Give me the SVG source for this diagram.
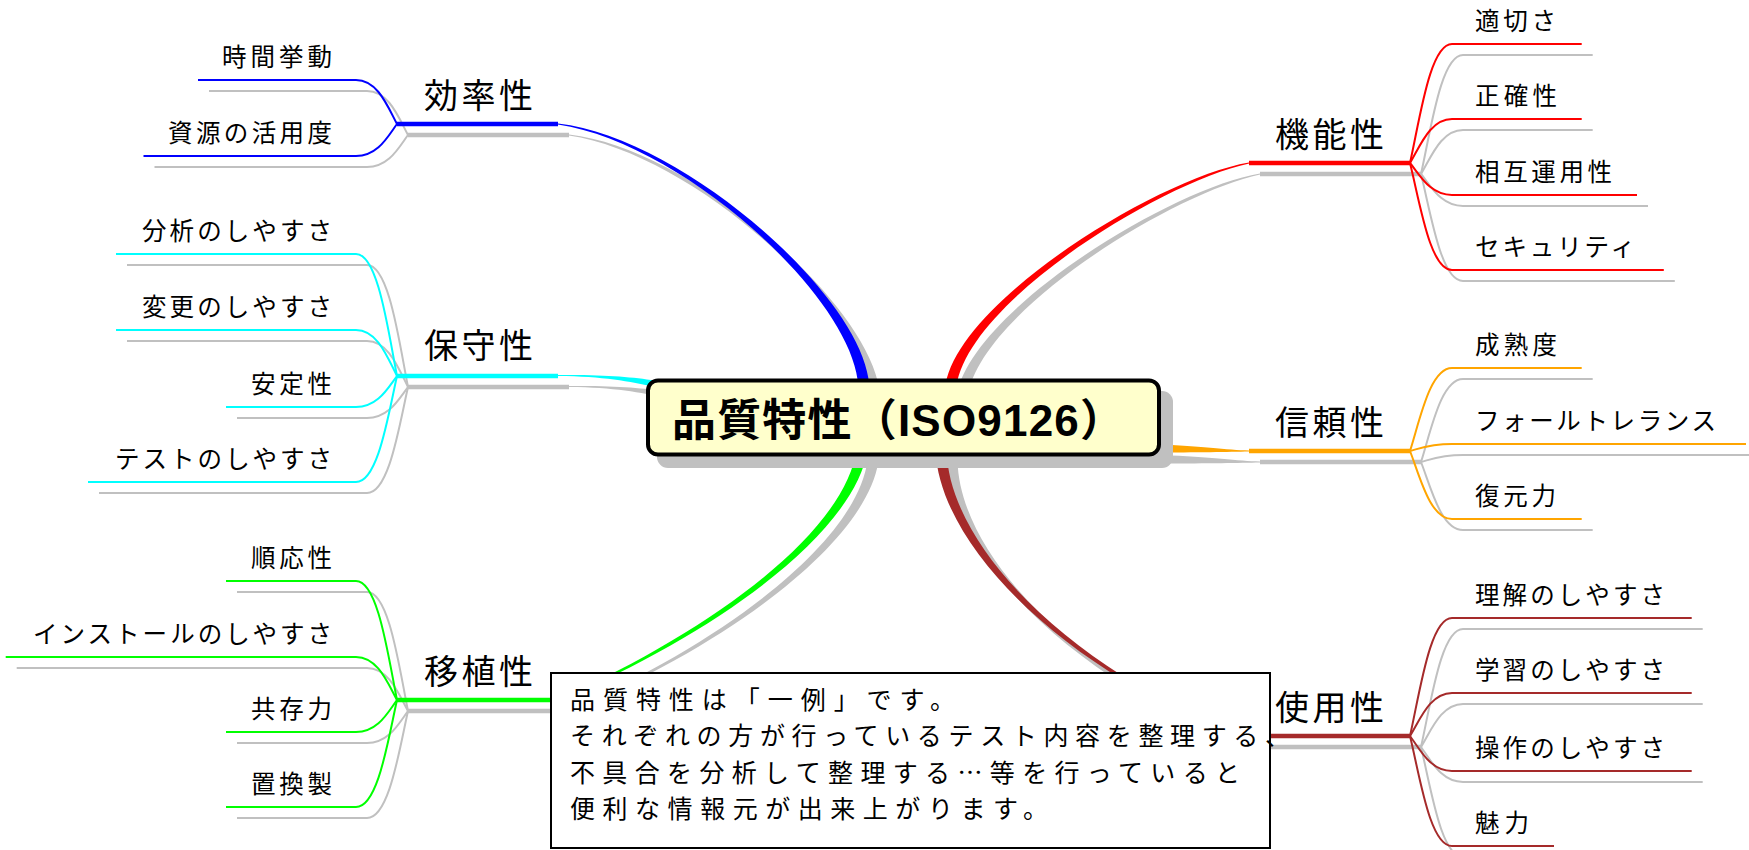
<svg xmlns="http://www.w3.org/2000/svg" xmlns:xlink="http://www.w3.org/1999/xlink" width="1749" height="850" viewBox="0 0 1749 850">
<style>
.ln{fill:none;stroke:currentColor;stroke-width:2}
.th{fill:none;stroke:currentColor;stroke-width:4.5}
.tp{fill:currentColor;stroke:none}
.t{font-family:"Noto Sans CJK JP","Noto Sans CJK SC",sans-serif;fill:#000}
.ts{font-size:24.5px}
.tb{font-size:34px}
.tn{font-size:25px}
.tc{font-family:"Liberation Sans","Noto Sans CJK JP",sans-serif;font-size:44px;font-weight:bold;fill:#000}
</style>
<rect width="1749" height="850" fill="#FFFFFF"/>
<g id="connectors">
  <g id="connector-shadows" transform="translate(11,11)" style="color:#C0C0C0">
    <use href="#cn-eff"/><use href="#cn-mnt"/><use href="#cn-prt"/>
    <use href="#cn-fun"/><use href="#cn-rel"/><use href="#cn-usa"/>
  </g>
  <g style="color:#0000FF"><g id="cn-eff">
    <path class="tp" d="M868.4,392 L868.4,378.2 C854.5,289.4 680.3,137.5 558.1,123.5 L557.9,124.5 C679.7,142.5 845.6,290.7 857.6,379.8 L857.6,392 Z"/>
    <path class="th" d="M397,124 H558"/>
    <path class="ln" d="M198,80 H356 C378,80 388,107.4 397,124"/>
    <path class="ln" d="M143.5,156 H356 C378,156 388,136.1 397,124"/>
  </g></g>
  <g style="color:#00FFFF"><g id="cn-mnt">
    <path class="tp" d="M558,375 C605,374.5 632,377 655,380.5 L655,387 C630,381.5 603,376.3 558,376 Z"/>
    <path class="th" d="M397,376 H558"/>
    <path class="ln" d="M116,254 H356 C378,254 388,330 397,376"/>
    <path class="ln" d="M116,330 H356 C378,330 388,358.7 397,376"/>
    <path class="ln" d="M226,407 H356 C378,407 388,387.7 397,376"/>
    <path class="ln" d="M88,482 H356 C378,482 388,416 397,376"/>
  </g></g>
  <g style="color:#00FF00"><g id="cn-prt">
    <path class="tp" d="M856.6,449.2 C845.6,529.3 719,627.7 557.8,699.5 L558.2,700.5 C721,632.3 854.5,530.7 867.4,450.8 Z"/>
    <path class="th" d="M397,700 H558"/>
    <path class="ln" d="M226,581 H356 C378,581 388,655.1 397,700"/>
    <path class="ln" d="M5.7,657 H356 C378,657 388,683.8 397,700"/>
    <path class="ln" d="M226,732 H356 C378,732 388,712.1 397,700"/>
    <path class="ln" d="M226,807 H356 C378,807 388,740.3 397,700"/>
  </g></g>
  <g style="color:#FF0000"><g id="cn-fun">
    <path class="tp" d="M956.4,395 L956.4,385.9 C969.4,300.7 1160.5,182.5 1249.1,163.5 L1248.9,162.5 C1159.5,177.5 960.6,299.3 945.6,384.1 L945.6,395 Z"/>
    <path class="th" d="M1249,163 H1410"/>
    <path class="ln" d="M1581.7,44 H1452 C1430,44 1420,118.1 1410,163"/>
    <path class="ln" d="M1581.7,119 H1452 C1430,119 1420,146.4 1410,163"/>
    <path class="ln" d="M1637,195 H1452 C1430,195 1420,175.1 1410,163"/>
    <path class="ln" d="M1663.8,270 H1452 C1430,270 1420,203.3 1410,163"/>
  </g></g>
  <g style="color:#FFA500"><g id="cn-rel">
    <path class="tp" d="M1150,444 C1200,446 1228,450 1249,450.5 L1249,451.5 C1228,452 1200,452.5 1150,452.5 Z"/>
    <path class="th" d="M1249,451 H1410"/>
    <path class="ln" d="M1581.7,368 H1452 C1430,368 1420,419.7 1410,451"/>
    <path class="ln" d="M1746,444 H1452 C1430,444 1420,448.4 1410,451"/>
    <path class="ln" d="M1581.7,519 H1452 C1430,519 1420,476.6 1410,451"/>
  </g></g>
  <g style="color:#A52A2A"><g id="cn-usa">
    <path class="tp" d="M935.5,450.2 C940.5,560.2 1099.3,692.4 1248.9,736.5 L1249.1,735.5 C1100.7,687.6 949.5,559.8 946.5,449.8 Z"/>
    <path class="th" d="M1249,736 H1410"/>
    <path class="ln" d="M1691.7,618 H1452 C1430,618 1420,691.5 1410,736"/>
    <path class="ln" d="M1691.7,693 H1452 C1430,693 1420,719.8 1410,736"/>
    <path class="ln" d="M1691.7,771 H1452 C1430,771 1420,749.2 1410,736"/>
    <path class="ln" d="M1554,846 H1452 C1430,846 1420,777.5 1410,736"/>
  </g></g>
</g>

<g id="node-center">
  <rect x="657" y="391" width="516" height="77" rx="11" fill="#C0C0C0"/>
  <rect x="648" y="380.5" width="511" height="74" rx="10" fill="#FFFFCC" stroke="#000" stroke-width="4"/>
  <text class="tc" x="672" y="436" textLength="452" lengthAdjust="spacing">品質特性（ISO9126）</text>
</g>

<g id="node-efficiency"><text class="t tb" x="424" y="108" textLength="109" lengthAdjust="spacing">効率性</text></g>
<g id="leaf-time"><text class="t ts" x="332" y="66" text-anchor="end" textLength="110" lengthAdjust="spacing">時間挙動</text></g>
<g id="leaf-resource"><text class="t ts" x="332" y="142" text-anchor="end" textLength="164" lengthAdjust="spacing">資源の活用度</text></g>

<g id="node-maintainability"><text class="t tb" x="424" y="358" textLength="109" lengthAdjust="spacing">保守性</text></g>
<g id="leaf-analyze"><text class="t ts" x="332" y="240" text-anchor="end" textLength="190" lengthAdjust="spacing">分析のしやすさ</text></g>
<g id="leaf-change"><text class="t ts" x="332" y="316" text-anchor="end" textLength="190" lengthAdjust="spacing">変更のしやすさ</text></g>
<g id="leaf-stability"><text class="t ts" x="332" y="393" text-anchor="end" textLength="81" lengthAdjust="spacing">安定性</text></g>
<g id="leaf-test"><text class="t ts" x="332" y="468" text-anchor="end" textLength="217" lengthAdjust="spacing">テストのしやすさ</text></g>

<g id="node-portability"><text class="t tb" x="424" y="684" textLength="109" lengthAdjust="spacing">移植性</text></g>
<g id="leaf-adapt"><text class="t ts" x="332" y="567" text-anchor="end" textLength="81" lengthAdjust="spacing">順応性</text></g>
<g id="leaf-install"><text class="t ts" x="332" y="643" text-anchor="end" textLength="299" lengthAdjust="spacing">インストールのしやすさ</text></g>
<g id="leaf-coexist"><text class="t ts" x="332" y="718" text-anchor="end" textLength="81" lengthAdjust="spacing">共存力</text></g>
<g id="leaf-replace"><text class="t ts" x="332" y="793" text-anchor="end" textLength="81" lengthAdjust="spacing">置換製</text></g>

<g id="node-functionality"><text class="t tb" x="1275" y="147" textLength="109" lengthAdjust="spacing">機能性</text></g>
<g id="leaf-suitability"><text class="t ts" x="1475" y="30" textLength="81" lengthAdjust="spacing">適切さ</text></g>
<g id="leaf-accuracy"><text class="t ts" x="1475" y="105" textLength="82" lengthAdjust="spacing">正確性</text></g>
<g id="leaf-interop"><text class="t ts" x="1475" y="181" textLength="137" lengthAdjust="spacing">相互運用性</text></g>
<g id="leaf-security"><text class="t ts" x="1475" y="256" textLength="160" lengthAdjust="spacing">セキュリティ</text></g>

<g id="node-reliability"><text class="t tb" x="1275" y="435" textLength="109" lengthAdjust="spacing">信頼性</text></g>
<g id="leaf-maturity"><text class="t ts" x="1475" y="354" textLength="82" lengthAdjust="spacing">成熟度</text></g>
<g id="leaf-fault"><text class="t ts" x="1475" y="430" textLength="241" lengthAdjust="spacing">フォールトレランス</text></g>
<g id="leaf-recover"><text class="t ts" x="1475" y="505" textLength="81" lengthAdjust="spacing">復元力</text></g>

<g id="node-usability"><text class="t tb" x="1275" y="720" textLength="109" lengthAdjust="spacing">使用性</text></g>
<g id="leaf-understand"><text class="t ts" x="1475" y="604" textLength="190" lengthAdjust="spacing">理解のしやすさ</text></g>
<g id="leaf-learn"><text class="t ts" x="1475" y="679" textLength="190" lengthAdjust="spacing">学習のしやすさ</text></g>
<g id="leaf-operate"><text class="t ts" x="1475" y="757" textLength="190" lengthAdjust="spacing">操作のしやすさ</text></g>
<g id="leaf-attract"><text class="t ts" x="1475" y="832" textLength="54" lengthAdjust="spacing">魅力</text></g>

<g id="note">
  <rect x="551" y="673" width="719" height="175" fill="#FFFFFF" stroke="#000" stroke-width="2"/>
  <text class="t tn" x="570" y="709" textLength="385" lengthAdjust="spacing">品質特性は「一例」です。</text>
  <text class="t tn" x="570" y="745.3" textLength="720" lengthAdjust="spacing">それぞれの方が行っているテスト内容を整理する、</text>
  <text class="t tn" x="570" y="781.6" textLength="670" lengthAdjust="spacing">不具合を分析して整理する…等を行っていると</text>
  <text class="t tn" x="570" y="818" textLength="478" lengthAdjust="spacing">便利な情報元が出来上がります。</text>
</g>
</svg>
